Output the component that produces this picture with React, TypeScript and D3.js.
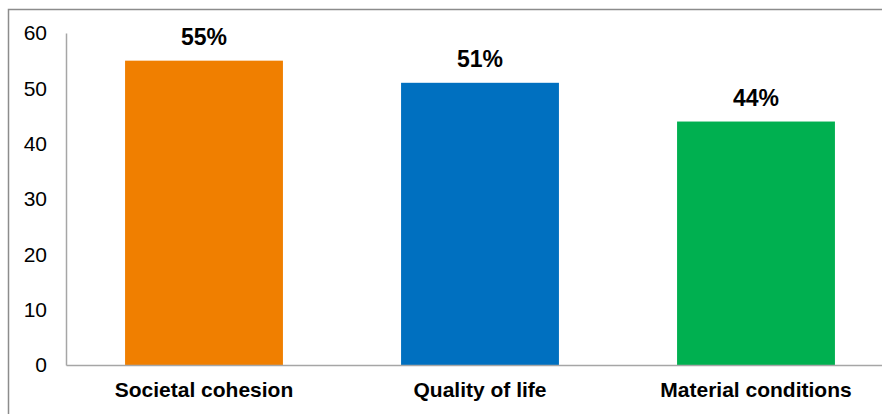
import * as d3 from 'd3';
import React, { useEffect, useRef } from 'react';

const categories = ['Societal cohesion', 'Quality of life', 'Material conditions'];
const values = [55, 51, 44];
const labels = ['55%', '51%', '44%'];
const colors = ['#F07F00', '#0070C0', '#00B050'];
const yTicks = [0, 10, 20, 30, 40, 50, 60];

export default function App() {
  const svgRef = useRef<SVGSVGElement>(null);
  const w = 882;
  const h = 414;
  const margin = { top: 33, left: 66, bottom: 49 };

  useEffect(() => {
    const svg = d3.select(svgRef.current);
    svg.selectAll('*').remove();
    const font = 'Arial, "Liberation Sans", sans-serif';

    // outer frame (right/bottom edges fall outside the picture)
    svg.append('rect')
      .attr('x', 8.5).attr('y', 9.5)
      .attr('width', w + 20).attr('height', h + 20)
      .attr('fill', 'none').attr('stroke', '#8c8c8c').attr('stroke-width', 1.5);

    const y = d3.scaleLinear().domain([0, 60]).range([h - margin.bottom, margin.top]);
    const x = d3.scaleBand<string>().domain(categories)
      .range([margin.left, margin.left + 3 * 276]).paddingInner(0.428).paddingOuter(0.214);

    const g = svg.append('g');

    g.selectAll('rect.bar')
      .data(values)
      .join('rect')
      .attr('class', 'bar')
      .attr('x', (d, i) => x(categories[i])!)
      .attr('y', d => y(d))
      .attr('width', x.bandwidth())
      .attr('height', d => y(0) - y(d))
      .attr('fill', (d, i) => colors[i]);

    g.selectAll('text.val')
      .data(values)
      .join('text')
      .attr('class', 'val')
      .attr('x', (d, i) => x(categories[i])! + x.bandwidth() / 2)
      .attr('y', d => y(d) - 16)
      .attr('text-anchor', 'middle')
      .attr('font-family', font)
      .attr('font-weight', 'bold')
      .attr('font-size', 23)
      .attr('fill', '#000')
      .text((d, i) => labels[i]);

    // axes
    const yAxis = d3.axisLeft(y).tickValues(yTicks).tickSize(0).tickPadding(19);
    const yg = g.append('g').attr('transform', `translate(${margin.left},0)`).call(yAxis);
    yg.select('.domain').attr('stroke', '#a6a6a6').attr('stroke-width', 1.5);
    yg.selectAll('text').attr('font-family', font).attr('font-size', 21).attr('fill', '#000');

    const xAxis = d3.axisBottom(x).tickSize(0).tickPadding(17);
    const xg = g.append('g').attr('transform', `translate(0,${y(0)})`).call(xAxis);
    xg.select('.domain').attr('stroke', '#a6a6a6').attr('stroke-width', 1.5);
    xg.selectAll('text').attr('font-family', font).attr('font-size', 21)
      .attr('font-weight', 'bold').attr('fill', '#000');
  }, []);

  return (
    <svg ref={svgRef} width={w} height={h}
      style={{ position: 'absolute', left: 0, top: 0, background: '#fff' }} />
  );
}
